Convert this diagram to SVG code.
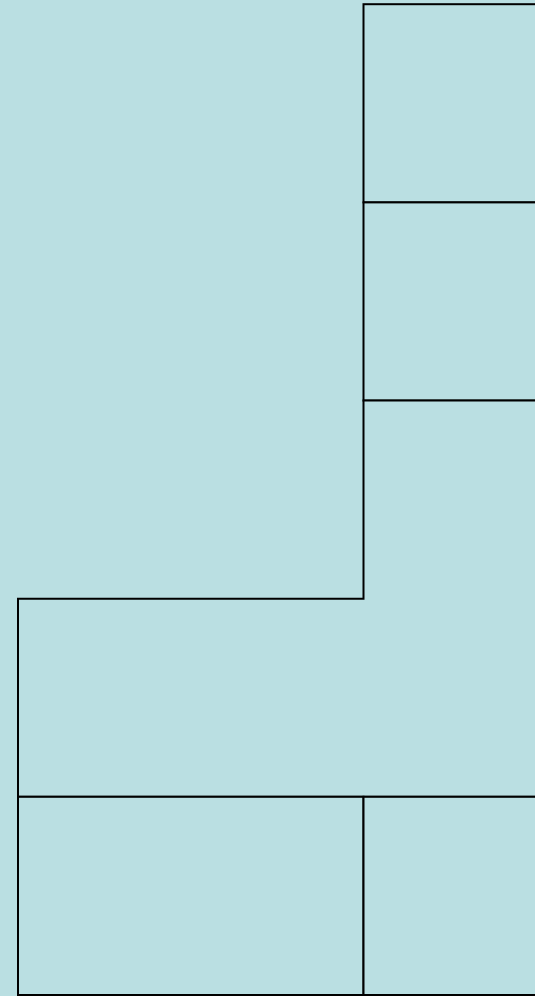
<svg xmlns="http://www.w3.org/2000/svg" width="535" height="996" viewBox="0 0 535 996">
<style>
.cell{fill:#badfe2;stroke:#000;stroke-width:2;stroke-linejoin:miter}
</style>
<rect x="0" y="0" width="535" height="996" fill="#badfe2"/>
<g id="cell-top"><rect class="cell" x="363.5" y="4.2" width="345.5" height="198.2"/></g>
<g id="cell-second"><rect class="cell" x="363.5" y="202.4" width="345.5" height="198.2"/></g>
<g id="cell-L"><path class="cell" d="M363.5,400.6 H709 V796.8 H18 V598.8 H363.5 Z"/></g>
<g id="cell-bottom-left"><rect class="cell" x="18" y="796.8" width="345.5" height="198.2"/></g>
<g id="cell-bottom-right"><rect class="cell" x="363.5" y="796.8" width="345.5" height="198.2"/></g>
<g id="connectors"></g>
</svg>
